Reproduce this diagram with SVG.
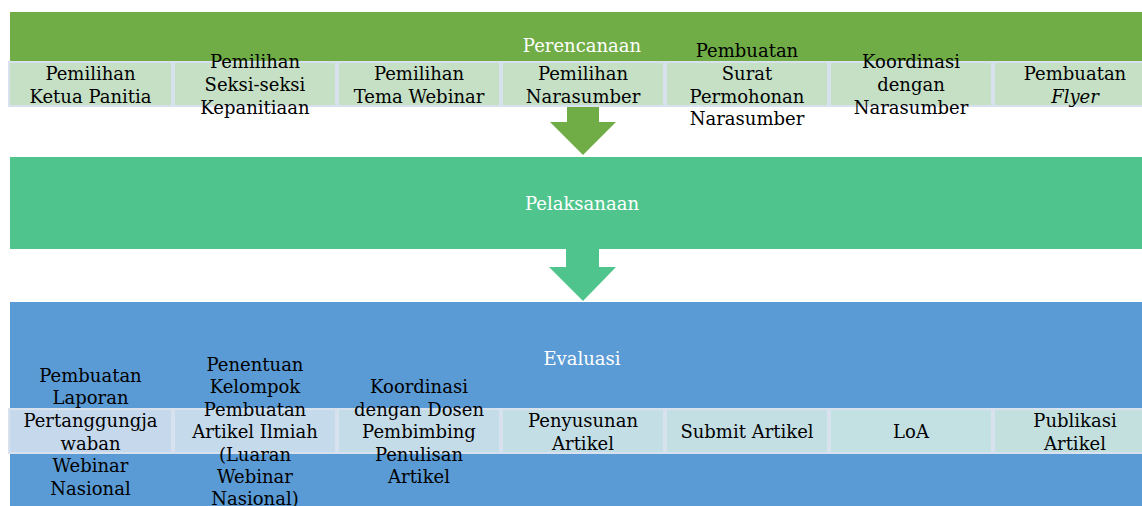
<svg xmlns="http://www.w3.org/2000/svg" width="1142" height="506" viewBox="0 0 1142 506">
<style>
.t{font-family:"DejaVu Serif","Liberation Serif",serif;font-size:18px;fill:#000;text-anchor:middle}
.w{font-family:"DejaVu Serif","Liberation Serif",serif;font-size:18px;fill:#fff;text-anchor:middle}
.g{fill:#C6E0C6;stroke:#D8E2EF;stroke-width:2}
</style>
<rect width="1142" height="506" fill="#fff"/>
<g id="band-perencanaan">
<rect x="10" y="12" width="1140" height="95" fill="#70AD47"/>
<text class="w" x="582" y="52">Perencanaan</text>
</g>
<g id="connectors">
<polygon points="567,107 599,107 599,122 616,122 583,155 550,122 567,122" fill="#70AD47"/>
<polygon points="566,249 599,249 599,267 616,267 583,301 549,267 566,267" fill="#4FC58D"/>
</g>
<g id="band-pelaksanaan">
<rect x="10" y="157" width="1140" height="92" fill="#4FC58D"/>
<text class="w" x="582" y="210">Pelaksanaan</text>
</g>
<g id="band-evaluasi">
<rect x="10" y="302" width="1140" height="210" fill="#5B9BD5"/>
<text class="w" x="582" y="365">Evaluasi</text>
</g>
<g id="p1"><rect class="g" x="9" y="62" width="163" height="44"/><text class="t" x="90.5" y="80">Pemilihan</text><text class="t" x="90.5" y="102.5">Ketua Panitia</text></g>
<g id="p2"><rect class="g" x="174" y="62" width="162" height="44"/><text class="t" x="255" y="68">Pemilihan</text><text class="t" x="255" y="91">Seksi-seksi</text><text class="t" x="255" y="113.5">Kepanitiaan</text></g>
<g id="p3"><rect class="g" x="338" y="62" width="162" height="44"/><text class="t" x="419" y="80">Pemilihan</text><text class="t" x="419" y="102.5">Tema Webinar</text></g>
<g id="p4"><rect class="g" x="502" y="62" width="162" height="44"/><text class="t" x="583" y="80">Pemilihan</text><text class="t" x="583" y="102.5">Narasumber</text></g>
<g id="p5"><rect class="g" x="666" y="62" width="162" height="44"/><text class="t" x="747" y="57">Pembuatan</text><text class="t" x="747" y="80">Surat</text><text class="t" x="747" y="102.5">Permohonan</text><text class="t" x="747" y="125">Narasumber</text></g>
<g id="p6"><rect class="g" x="830" y="62" width="162" height="44"/><text class="t" x="911" y="68">Koordinasi</text><text class="t" x="911" y="91">dengan</text><text class="t" x="911" y="113.5">Narasumber</text></g>
<g id="p7"><rect class="g" x="994" y="62" width="162" height="44"/><text class="t" x="1075" y="80">Pembuatan</text><text class="t" x="1075" y="102.5" font-style="italic">Flyer</text></g>
<g id="e1"><rect x="9" y="409" width="163" height="44" fill="#C5D8EC" stroke="#D8E2EF" stroke-width="2"/><text class="t" x="90.5" y="381.5">Pembuatan</text><text class="t" x="90.5" y="404">Laporan</text><text class="t" x="90.5" y="427">Pertanggungja</text><text class="t" x="90.5" y="449.5">waban</text><text class="t" x="90.5" y="472">Webinar</text><text class="t" x="90.5" y="495">Nasional</text></g>
<g id="e2"><rect x="174" y="409" width="162" height="44" fill="#C5DAEA" stroke="#D8E2EF" stroke-width="2"/><text class="t" x="255" y="370.5">Penentuan</text><text class="t" x="255" y="393">Kelompok</text><text class="t" x="255" y="415.5">Pembuatan</text><text class="t" x="255" y="438">Artikel Ilmiah</text><text class="t" x="255" y="460.5">(Luaran</text><text class="t" x="255" y="483">Webinar</text><text class="t" x="255" y="505">Nasional)</text></g>
<g id="e3"><rect x="338" y="409" width="162" height="44" fill="#C4DCE8" stroke="#D8E2EF" stroke-width="2"/><text class="t" x="419" y="392.5">Koordinasi</text><text class="t" x="419" y="415.5">dengan Dosen</text><text class="t" x="419" y="438">Pembimbing</text><text class="t" x="419" y="460.5">Penulisan</text><text class="t" x="419" y="483">Artikel</text></g>
<g id="e4"><rect x="502" y="409" width="162" height="44" fill="#C4DEE6" stroke="#D8E2EF" stroke-width="2"/><text class="t" x="583" y="427">Penyusunan</text><text class="t" x="583" y="449.5">Artikel</text></g>
<g id="e5"><rect x="666" y="409" width="162" height="44" fill="#C4DFE4" stroke="#D8E2EF" stroke-width="2"/><text class="t" x="747" y="438">Submit Artikel</text></g>
<g id="e6"><rect x="830" y="409" width="162" height="44" fill="#C3E0E2" stroke="#D8E2EF" stroke-width="2"/><text class="t" x="911" y="438">LoA</text></g>
<g id="e7"><rect x="994" y="409" width="162" height="44" fill="#C3E0DF" stroke="#D8E2EF" stroke-width="2"/><text class="t" x="1075" y="427">Publikasi</text><text class="t" x="1075" y="449.5">Artikel</text></g>
</svg>
